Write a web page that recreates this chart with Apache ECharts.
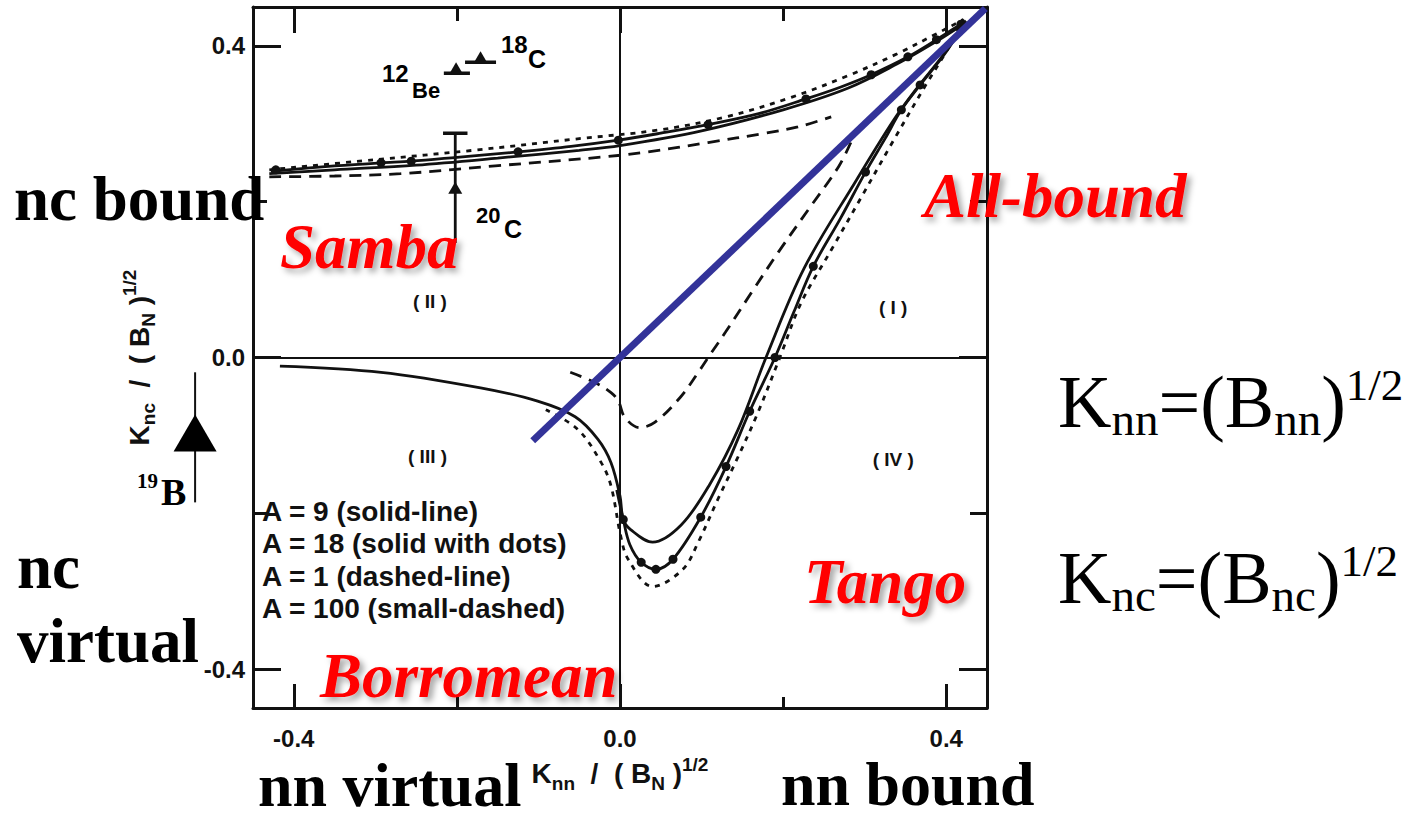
<!DOCTYPE html>
<html>
<head>
<meta charset="utf-8">
<title>Three-body bound-state regions</title>
<script src="https://cdn.jsdelivr.net/npm/echarts@6/dist/echarts.min.js"></script>
<style>
  html, body { margin: 0; padding: 0; background: #ffffff; }
  #chart { width: 1421px; height: 819px; }
</style>
</head>
<body>
<div id="chart"></div>
<script>
// ---- axis ticks and labels ----
const axisRange = [-0.45, 0.45];
const majorTicks = [-0.4, 0.0, 0.4];
const minorTicks = [-0.2, 0.2];
const tickLabels = [-0.4, 0.0, 0.4];

// ---- curves: [K_nn/sqrt(B_N), K_nc/sqrt(B_N)] ----
const nameA9 = 'A = 9 (solid-line)';
const nameA18 = 'A = 18 (solid with dots)';
const nameA1 = 'A = 1 (dashed-line)';
const nameA100 = 'A = 100 (small-dashed)';

const curveA9 = [
  [-0.43, 0.236], [-0.35, 0.241], [-0.25, 0.247], [-0.15, 0.256], [-0.05, 0.266], [0.0, 0.272],
  [0.1, 0.291], [0.2, 0.318], [0.28, 0.346], [0.34, 0.377], [0.385, 0.404], [0.418, 0.426], [0.423, 0.43],
  [0.396, 0.388], [0.362, 0.343], [0.335, 0.304], [0.29, 0.228], [0.226, 0.115], [0.179, 0.0],
  [0.145, -0.092], [0.11, -0.163], [0.075, -0.215], [0.04, -0.237], [0.013, -0.221], [0.004, -0.208],
  [0.0, -0.178], [-0.011, -0.135], [-0.027, -0.105], [-0.055, -0.076], [-0.101, -0.056],
  [-0.171, -0.039], [-0.293, -0.019], [-0.417, -0.011]
];

const curveA18 = [
  [-0.428, 0.239], [-0.35, 0.246], [-0.293, 0.250], [-0.256, 0.252], [-0.2, 0.257], [-0.125, 0.264],
  [-0.06, 0.271], [-0.002, 0.279], [0.05, 0.288], [0.108, 0.299], [0.17, 0.313], [0.228, 0.332],
  [0.27, 0.347], [0.308, 0.363], [0.353, 0.386], [0.388, 0.408], [0.418, 0.428], [0.424, 0.432],
  [0.399, 0.391], [0.368, 0.350], [0.345, 0.318], [0.325, 0.281], [0.301, 0.238], [0.27, 0.178],
  [0.237, 0.117], [0.213, 0.058], [0.190, 0.0], [0.159, -0.069], [0.130, -0.140], [0.099, -0.205],
  [0.065, -0.259], [0.044, -0.272], [0.026, -0.263], [0.012, -0.24], [0.004, -0.208], [-0.004, -0.17]
];

const dotsA18 = [
  [-0.422, 0.241], [-0.293, 0.250], [-0.256, 0.252], [-0.125, 0.264], [-0.002, 0.279], [0.108, 0.299],
  [0.228, 0.332], [0.308, 0.363], [0.353, 0.386], [0.388, 0.408], [0.418, 0.428], [0.368, 0.350],
  [0.345, 0.318], [0.301, 0.238], [0.237, 0.117], [0.190, 0.0], [0.159, -0.069], [0.130, -0.140],
  [0.099, -0.205], [0.065, -0.259], [0.044, -0.272], [0.026, -0.263], [0.004, -0.208]
];

const curveA1Upper = [
  [-0.43, 0.232], [-0.35, 0.233], [-0.269, 0.236], [-0.153, 0.246], [-0.015, 0.258], [0.034, 0.264],
  [0.108, 0.276], [0.178, 0.288], [0.218, 0.296], [0.259, 0.309]
];
const curveA1Lower = [
  [0.283, 0.276], [0.268, 0.245], [0.231, 0.19], [0.194, 0.135], [0.161, 0.083], [0.129, 0.032],
  [0.112, 0.006], [0.096, -0.019], [0.074, -0.051], [0.043, -0.083], [0.024, -0.090], [0.006, -0.077],
  [-0.002, -0.056], [-0.011, -0.045], [-0.031, -0.032], [-0.061, -0.019]
];

const curveA100 = [
  [-0.43, 0.241], [-0.3, 0.254], [-0.18, 0.266], [-0.05, 0.281], [0.047, 0.292], [0.13, 0.309],
  [0.21, 0.334], [0.28, 0.362], [0.34, 0.39], [0.385, 0.414], [0.416, 0.431], [0.421, 0.434],
  [0.403, 0.398], [0.375, 0.35], [0.335, 0.278], [0.296, 0.206], [0.259, 0.138], [0.222, 0.07],
  [0.196, 0.0], [0.169, -0.071], [0.145, -0.127], [0.12, -0.182], [0.096, -0.237], [0.077, -0.272],
  [0.04, -0.294], [0.01, -0.259], [0.001, -0.23], [-0.011, -0.165], [-0.023, -0.135],
  [-0.052, -0.092], [-0.091, -0.067]
];

// K_nn = K_nc diagonal
const diagonal = [[-0.107, -0.107], [0.448, 0.448]];

// ---- measured nuclei ----
const nucleusNames = ['12Be', '18C', '20C'];
const nucleusPoints = [[-0.201, 0.365], [-0.171, 0.379], [-0.202, 0.218]];
const nucleusXErr = [[-0.216, -0.184], [-0.19, -0.152], null];
const nucleusYErr = [null, null, [0.147, 0.288]];
const b19Point = [-0.521, -0.097];
const b19YErr = [-0.186, -0.019];

// ---- region markers ----
const regionNames = ['( I )', '( II )', '( III )', '( IV )'];
const regionPos = [[0.335, 0.064], [-0.233, 0.072], [-0.236, -0.127], [0.335, -0.131]];

const INK = '#111111';
const SANS = 'Liberation Sans, Arial, Helvetica, sans-serif';
const SERIF = 'Liberation Serif, Times New Roman, serif';
const LW = 2.8;

const chart = echarts.init(document.getElementById('chart'), null, { renderer: 'svg' });

const fmt = v => v.toFixed(1);

const axisNameRich = {
  m: { fontSize: 28, fontWeight: 'bold', fontFamily: SANS, color: INK, lineHeight: 38, verticalAlign: 'middle' },
  b: { fontSize: 19, fontWeight: 'bold', fontFamily: SANS, color: INK, lineHeight: 18, verticalAlign: 'bottom' },
  s: { fontSize: 19, fontWeight: 'bold', fontFamily: SANS, color: INK, lineHeight: 14, verticalAlign: 'top' }
};

function frameAxis(pos, ticks, len, withLine, extra) {
  return Object.assign({
    type: 'value', position: pos, min: axisRange[0], max: axisRange[1],
    axisLine: { show: withLine, onZero: false, lineStyle: { color: INK, width: 3 } },
    axisTick: { show: true, inside: true, length: len, customValues: ticks, lineStyle: { color: INK, width: 3 } },
    axisLabel: { show: false },
    splitLine: { show: false }
  }, extra || {});
}

const labelStyle = {
  show: true, customValues: tickLabels, formatter: fmt,
  fontSize: 24, fontWeight: 'bold', fontFamily: SANS, color: INK
};

const xAxes = [
  frameAxis('bottom', majorTicks, 24, true, {
    axisLabel: Object.assign({ margin: 18, lineHeight: 24 }, labelStyle),
    name: '{m|K}{b|nn}{m|  /  ( B}{b|N}{m| )}{s|1/2}',
    nameLocation: 'middle', nameGap: 42,
    nameTextStyle: { rich: axisNameRich }
  }),
  frameAxis('bottom', minorTicks, 11, false),
  frameAxis('top', majorTicks, 26, true),
  frameAxis('top', minorTicks, 14, false)
];
const yAxes = [
  frameAxis('left', majorTicks, 28, true, {
    axisLabel: Object.assign({ margin: 8 }, labelStyle),
    name: '{m|K}{b|nc}{m|  /  ( B}{b|N}{m| )}{s|1/2}',
    nameLocation: 'middle', nameGap: 95, nameRotate: 90,
    nameTextStyle: { rich: axisNameRich }
  }),
  frameAxis('left', minorTicks, 14, false),
  frameAxis('right', majorTicks, 28, true),
  frameAxis('right', minorTicks, 17, false)
];

const curveBase = {
  type: 'line', smooth: 0.35, showSymbol: false, symbol: 'none', silent: true,
  xAxisIndex: 0, yAxisIndex: 0
};

const series = [
  Object.assign({}, curveBase, {
    name: nameA9, data: curveA9, lineStyle: { color: INK, width: LW }, z: 3,
    markLine: {
      silent: true, symbol: 'none', label: { show: false },
      lineStyle: { color: INK, width: 2, type: 'solid' },
      data: [{ xAxis: 0 }, { yAxis: 0 }]
    }
  }),
  Object.assign({}, curveBase, { name: nameA18, data: curveA18, lineStyle: { color: INK, width: LW }, z: 3 }),
  {
    type: 'scatter', name: nameA18, data: dotsA18, symbol: 'circle', symbolSize: 9,
    itemStyle: { color: INK, opacity: 1 }, silent: true, z: 4
  },
  Object.assign({}, curveBase, { name: nameA1, data: curveA1Upper, lineStyle: { color: INK, width: LW, type: [12, 8] }, z: 3 }),
  Object.assign({}, curveBase, { name: nameA1, data: curveA1Lower, lineStyle: { color: INK, width: LW, type: [12, 8] }, z: 3 }),
  Object.assign({}, curveBase, { name: nameA100, data: curveA100, lineStyle: { color: INK, width: LW, type: [5, 6] }, z: 3 }),
  Object.assign({}, curveBase, {
    name: 'diagonal', data: diagonal, smooth: false,
    lineStyle: { color: '#333399', width: 7, cap: 'butt' }, z: 6
  })
];

// error bars of the measured nuclei
nucleusPoints.forEach((p, i) => {
  if (nucleusXErr[i]) {
    series.push(Object.assign({}, curveBase, {
      name: nucleusNames[i] + ' err', smooth: false,
      data: [[nucleusXErr[i][0], p[1]], [nucleusXErr[i][1], p[1]]],
      lineStyle: { color: INK, width: 3.5 }, z: 5
    }));
  }
  if (nucleusYErr[i]) {
    series.push(Object.assign({}, curveBase, {
      name: nucleusNames[i] + ' err', smooth: false,
      data: [[p[0], nucleusYErr[i][0]], [p[0], nucleusYErr[i][1]]],
      lineStyle: { color: INK, width: 2.8 }, z: 5
    }));
    series.push(Object.assign({}, curveBase, {
      name: nucleusNames[i] + ' cap', smooth: false,
      data: [[p[0] - 0.015, nucleusYErr[i][1]], [p[0] + 0.015, nucleusYErr[i][1]]],
      lineStyle: { color: INK, width: 3.5 }, z: 5
    }));
  }
});
series.push({
  type: 'scatter', name: 'nuclei', silent: true, z: 5,
  data: nucleusPoints.map((p, i) => ({
    value: p,
    symbolOffset: nucleusXErr[i] ? [0, -5] : [0, 0]
  })),
  symbol: 'triangle', symbolSize: [14, 12], itemStyle: { color: INK, opacity: 1 }
});

// 19B sits just outside the left edge of the frame
series.push({
  type: 'custom', name: '19B err', silent: true, clip: false, z: 5,
  data: [[b19Point[0], b19YErr[0], b19YErr[1]]],
  renderItem: function (params, api) {
    const lo = api.coord([api.value(0), api.value(1)]);
    const hi = api.coord([api.value(0), api.value(2)]);
    return {
      type: 'line',
      shape: { x1: lo[0], y1: lo[1], x2: hi[0], y2: hi[1] },
      style: { stroke: INK, lineWidth: 2 }
    };
  }
});
series.push({
  type: 'scatter', name: '19B', silent: true, clip: false, z: 6,
  data: [b19Point], symbol: 'triangle', symbolSize: [43, 37], itemStyle: { color: '#000', opacity: 1 }
});

// region markers (I)-(IV)
series.push({
  type: 'scatter', name: 'regions', silent: true, z: 5, symbolSize: 0,
  itemStyle: { opacity: 1 },
  data: regionPos.map((p, i) => ({ value: p, name: regionNames[i] })),
  label: {
    show: true, position: 'inside', formatter: '{b}',
    fontSize: 19, fontWeight: 'bold', fontFamily: SANS, color: INK
  }
});

// free-standing text
const BIG = 63;
function serifText(str, x, baseline, opts, size) {
  const fs = size || BIG;
  return {
    type: 'text', x: x, y: baseline - fs * 0.3375, silent: true, z: 100,
    style: Object.assign({
      text: str, fontSize: fs, fontWeight: 'bold', fontFamily: SERIF, fill: '#000', lineHeight: 50,
      align: 'left', verticalAlign: 'middle', textAlign: 'left', textVerticalAlign: 'middle'
    }, opts || {})
  };
}
const redStyle = {
  fill: '#ff0000', fontStyle: 'italic',
  textShadowColor: 'rgba(0,0,0,0.35)', textShadowBlur: 6, textShadowOffsetX: 4, textShadowOffsetY: 4
};
function smallText(str, x, baseline, size, family, weight) {
  return {
    type: 'text', x: x, y: baseline - size * 0.35, silent: true, z: 100,
    style: {
      text: str, fontSize: size, fontWeight: weight || 'bold', fontFamily: family || SANS, fill: '#000',
      align: 'left', verticalAlign: 'middle', textAlign: 'left', textVerticalAlign: 'middle'
    }
  };
}
const eqRich = {
  m: { fontSize: 74, fontFamily: SERIF, fill: '#000', lineHeight: 80, verticalAlign: 'middle' },
  b: { fontSize: 47, fontFamily: SERIF, fill: '#000', lineHeight: 12, verticalAlign: 'bottom' },
  s: { fontSize: 45, fontFamily: SERIF, fill: '#000', lineHeight: 50, verticalAlign: 'top' }
};
function equation(sub, top) {
  return {
    type: 'text', x: 1058, y: top, silent: true, z: 100,
    style: {
      text: '{m|K}{b|' + sub + '}{m|=(B}{b|' + sub + '}{m|)}{s|1/2}',
      rich: eqRich, align: 'left', verticalAlign: 'top', textAlign: 'left', textVerticalAlign: 'top'
    }
  };
}

const graphics = [
  serifText('nc bound', 14, 220),
  serifText('nc', 17, 588),
  serifText('virtual', 17, 662),
  serifText('nn virtual', 258, 806, null, 62),
  serifText('nn bound', 781, 805, null, 62),
  serifText('Samba', 280, 268, redStyle),
  serifText('All-bound', 924, 217, redStyle),
  serifText('Tango', 804, 603, redStyle),
  serifText('Borromean', 320, 697, redStyle),
  equation('nn', 362),
  equation('nc', 538),
  smallText('12', 382, 82, 24),
  smallText('Be', 412, 98, 22),
  smallText('18', 501, 53, 24),
  smallText('C', 528, 68, 25),
  smallText('20', 476, 223, 22),
  smallText('C', 504, 238, 25),
  smallText('19', 137, 488, 21, SERIF),
  smallText('B', 161, 505, 38, SERIF)
];

chart.setOption({
  backgroundColor: '#ffffff',
  animation: false,
  grid: { left: 253, right: 434, top: 7, bottom: 111, containLabel: false },
  legend: {
    data: [nameA9, nameA18, nameA1, nameA100],
    orient: 'vertical', left: 251, top: 491,
    itemWidth: 0, itemHeight: 0, itemGap: 2,
    selectedMode: false,
    itemStyle: { opacity: 0 }, lineStyle: { opacity: 0 },
    textStyle: { fontSize: 28, lineHeight: 30.5, fontWeight: 'bold', fontFamily: SANS, color: INK }
  },
  xAxis: xAxes,
  yAxis: yAxes,
  series: series,
  graphic: graphics
});
</script>
</body>
</html>
